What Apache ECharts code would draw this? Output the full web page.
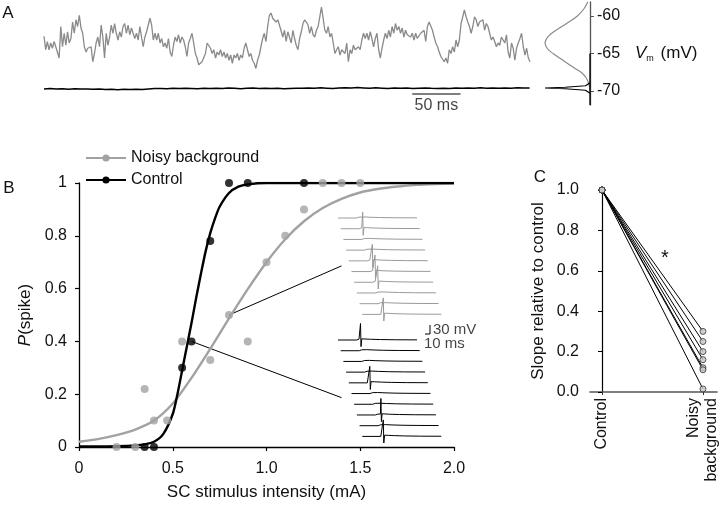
<!DOCTYPE html>
<html><head><meta charset="utf-8">
<script src="https://cdn.jsdelivr.net/npm/echarts@6/dist/echarts.min.js"></script>
<style>html,body{margin:0;padding:0;background:#fff}#c{width:723px;height:506px}</style>
</head><body><div id="c"></div>
<script>
// ================= DATA =================
// Panel A: membrane potential traces (mV), sampled every traceStepMs
const traceStepMs = 1.74;
const noisyTraceMv = [
-62.7,-64.5,-63.4,-64.5,-63.6,-64.3,-63.4,-64.1,-63.9,-65.6,
-61.4,-64.1,-62.3,-63.9,-62.1,-63.6,-63.0,-60.8,-62.3,-60.5,
-61.4,-59.9,-61.6,-62.3,-64.1,-64.8,-64.3,-64.5,-64.1,-66.1,
-65.0,-63.6,-62.8,-64.1,-61.2,-62.8,-65.6,-62.3,-63.9,-62.8,
-61.2,-62.3,-61.0,-62.3,-63.2,-62.1,-62.8,-61.4,-61.0,-62.3,
-61.2,-62.5,-61.6,-62.3,-63.0,-62.3,-63.2,-61.4,-62.8,-64.1,
-62.8,-62.1,-61.2,-60.3,-61.2,-63.2,-62.3,-63.2,-62.3,-63.6,
-63.0,-64.1,-63.6,-64.3,-63.0,-64.8,-65.4,-63.9,-62.8,-63.4,
-62.5,-63.6,-62.8,-63.2,-64.1,-65.4,-63.6,-63.0,-62.3,-63.6,
-65.0,-65.6,-66.5,-66.3,-66.1,-65.9,-65.0,-63.6,-63.4,-64.3,
-65.0,-64.5,-65.6,-64.8,-65.2,-64.5,-65.4,-64.8,-65.6,-65.0,
-65.9,-65.2,-66.3,-65.2,-65.6,-65.0,-65.9,-65.2,-65.6,-64.3,
-63.6,-64.5,-65.4,-65.0,-65.9,-66.3,-67.0,-65.9,-65.2,-64.1,
-63.0,-62.3,-63.4,-61.4,-59.9,-59.6,-60.3,-60.5,-60.8,-60.5,
-61.2,-61.0,-62.8,-61.9,-63.4,-62.1,-62.3,-63.6,-61.9,-63.0,
-63.9,-64.5,-63.0,-62.1,-61.0,-60.5,-60.8,-61.2,-62.3,-61.4,
-62.5,-62.8,-61.9,-61.4,-60.1,-58.8,-60.3,-61.9,-62.3,-61.4,
-62.8,-62.3,-63.6,-65.0,-64.5,-64.1,-65.2,-64.5,-64.3,-65.0,
-63.6,-66.1,-64.5,-65.0,-63.9,-64.5,-64.3,-64.1,
-64.5,-63.2,-62.3,-63.0,-62.3,-63.2,-62.1,-63.0,-64.1,-63.0,
-62.3,-64.5,-65.6,-64.3,-63.2,-62.3,-63.0,-61.9,-62.8,-61.4,
-62.3,-61.0,-61.9,-61.4,-62.3,-61.6,-62.8,-61.9,-62.5,-62.3,
-62.8,-62.3,-63.2,-62.3,-63.0,-62.8,-62.3,-62.5,-61.9,-63.4,
-61.4,-60.8,-61.0,-61.9,-62.8,-63.6,-64.1,-64.8,-65.4,-65.6,
-66.1,-65.6,-66.3,-64.5,-65.0,-64.1,-64.8,-63.2,-64.1,-63.2,
-61.0,-60.1,-59.2,-60.1,-60.8,-61.4,-62.3,-61.4,-60.1,-60.5,
-61.4,-60.8,-61.0,-60.5,-61.9,-61.0,-61.4,-62.3,-63.2,-62.8,
-63.4,-64.1,-63.6,-63.9,-62.8,-63.2,-63.6,-62.5,-64.8,-65.6,
-63.6,-64.3,-65.9,-64.3,-63.6,-63.0,-62.3,-64.1,-65.2,-64.3,
-65.6,-66.1];
const controlTraceStepMs = 6.36;
const controlTraceMv = [
-69.72,-69.68,-69.74,-69.70,-69.76,-69.71,-69.75,-69.73,-69.78,-69.74,
-69.80,-69.77,-69.82,-69.78,-69.81,-69.76,-69.79,-69.72,-69.68,-69.66,
-69.70,-69.64,-69.68,-69.62,-69.66,-69.70,-69.65,-69.68,-69.63,-69.67,
-69.61,-69.65,-69.69,-69.64,-69.60,-69.66,-69.62,-69.67,-69.63,-69.70,
-69.66,-69.62,-69.65,-69.60,-69.64,-69.58,-69.62,-69.66,-69.61,-69.57,
-69.60,-69.55,-69.59,-69.63,-69.58,-69.62,-69.66,-69.61,-69.64,-69.60,
-69.67,-69.63,-69.59,-69.64,-69.68,-69.62,-69.66,-69.61,-69.65,-69.60,
-69.63,-69.58,-69.62,-69.59,-69.64,-69.60,-69.62,-69.58,-69.61,-69.60];
const timeScaleBarMs = [381, 431];
const timeScaleBarMv = -70.4;
const vmRange = [-71.87, -58.13];
const vmTicks = [-70, -65, -60];
// Vm distributions (normalised density)
const noisyDistMv      = [-58.1,-59.0,-60.0,-61.0,-62.0,-62.8,-63.6,-64.4,-65.0,-66.0,-67.0,-67.6,-68.2,-68.8,-69.5,-70.0];
const noisyDistDensity = [0.05, 0.13, 0.28, 0.52, 0.78, 0.94, 1.0, 0.94, 0.82, 0.58, 0.33, 0.18, 0.09, 0.04, 0.01, 0];
const controlDistMv      = [-68.9,-69.3,-69.5,-69.6,-69.7,-69.9,-70.3];
const controlDistDensity = [0, 0.1, 0.55, 1.0, 0.55, 0.1, 0];

// Panel B: spike probability vs SC stimulus intensity
const intensityTicks = [0, 0.5, 1.0, 1.5, 2.0];
const noisyDotsMA = [0.2, 0.3, 0.35, 0.4, 0.47, 0.55, 0.7, 0.8, 0.9, 1.0, 1.1, 1.2, 1.3, 1.4, 1.5];
const noisyDotsP  = [0,   0,   0.22, 0.1, 0.1,  0.4,  0.33,0.5, 0.4, 0.7, 0.8, 0.9, 1,   1,   1];
const controlDotsMA = [0.35, 0.4, 0.55, 0.6, 0.7, 0.8, 0.9, 1.2];
const controlDotsP  = [0,    0,   0.3,  0.4, 0.78, 1,  1,   1];
const noisyFitMA = [0,0.1,0.2,0.3,0.4,0.5,0.6,0.7,0.8,0.9,1.0,1.1,1.2,1.3,1.4,1.5,1.6,1.7,1.8,1.9,2.0];
const noisyFitP  = [0.02,0.03,0.045,0.066,0.1,0.165,0.262,0.372,0.487,0.598,0.7,0.787,0.855,0.905,0.94,0.964,0.978,0.987,0.993,0.996,0.998];
const controlFitMA = [0,0.1,0.2,0.3,0.35,0.4,0.45,0.5,0.525,0.55,0.575,0.6,0.625,0.65,0.675,0.7,0.725,0.75,0.8,0.85,0.9,1.0,1.5,2.0];
const controlFitP  = [0.002,0.002,0.003,0.006,0.01,0.02,0.05,0.125,0.2,0.29,0.38,0.47,0.565,0.655,0.74,0.81,0.865,0.91,0.962,0.986,0.995,1,1,1];
// connectors from example points to the inset traces
const noisyConnector   = [[0.8, 0.5], [1.4, 0.686]];
const controlConnector = [[0.6, 0.4], [1.4, 0.187]];
// inset example traces (ms, mV relative to rest)
const insetQuietMs = [0, 37, 37.6, 38.3, 39, 42, 52, 65, 85, 115, 158];
const insetQuietMv = [0, 0, 5, -3, 0, 3, 3.5, 2.5, 1.5, 0.8, 0.5];
const spikeShapeDtMs = [-1, 0, 1, 2.5];
const spikeShapeMv   = [3, 55, -22, 4];
const noisySpikeLatencyMs   = [null, 44, null, null, 47, 47, 47, null, null, 42];
const controlSpikeLatencyMs = [45, null, null, null, 42, null, null, 48, null, 42];
const insetScaleMs = [174, 184];
const insetScaleMv = [20, 50];

// Panel C: slope relative to control
const slopeCategories = ['Control', 'Noisy\nbackground'];
const slopeControl = [1, 1, 1, 1, 1, 1, 1];
const slopeNoisy   = [0.30, 0.25, 0.20, 0.16, 0.12, 0.11, 0.015];
const slopeTicks = [0, 0.2, 0.4, 0.6, 0.8, 1.0];

// ================= LAYOUT / STYLE =================
const FONT = '"Liberation Sans", Arial, sans-serif';
const FS = 15;     // tick labels
const FT = 17;     // axis titles
const GRAY = '#a2a2a2';
const TRACE_GRAY = '#8a8a8a';
const INK = '#111';
const INSET_DX_MS = 5.4;
const INSET_DY_MV = 35.7;

const chart = echarts.init(document.getElementById('c'));

function hid(gi, min, max, extra){
  return Object.assign({gridIndex: gi, type: 'value', min: min, max: max, show: false, splitLine:{show:false}}, extra || {});
}
function buildInset(latency, i){
  const pts = [];
  for (let k = 0; k < insetQuietMs.length; k++){
    const t = insetQuietMs[k];
    if (latency == null || t < latency + spikeShapeDtMs[0] || t > latency + spikeShapeDtMs[spikeShapeDtMs.length-1]) {
      pts.push([t, insetQuietMv[k]]);
    }
    if (latency != null && k < insetQuietMs.length - 1 && t < latency + spikeShapeDtMs[0] && insetQuietMs[k+1] >= latency + spikeShapeDtMs[0]) {
      for (let j = 0; j < spikeShapeDtMs.length; j++) pts.push([latency + spikeShapeDtMs[j], spikeShapeMv[j]]);
    }
  }
  return pts.map(p => [p[0] + i * INSET_DX_MS, p[1] - i * INSET_DY_MV]);
}

const series = [];
// ---- Panel A ----
series.push({type:'line', xAxisIndex:0, yAxisIndex:0, data: noisyTraceMv.map((v,i)=>[i*traceStepMs, v]),
  showSymbol:false, symbol:'none', lineStyle:{color:TRACE_GRAY, width:1.3}, z:2});
series.push({type:'line', xAxisIndex:0, yAxisIndex:0, data: controlTraceMv.map((v,i)=>[i*controlTraceStepMs, v]),
  showSymbol:false, symbol:'none', lineStyle:{color:'#000', width:1.5}, z:2});
series.push({type:'line', xAxisIndex:0, yAxisIndex:0, data: timeScaleBarMs.map(t=>[t, timeScaleBarMv]),
  symbol:'none', lineStyle:{color:'#000', width:1.2}});
series.push({type:'scatter', xAxisIndex:0, yAxisIndex:0, data:[[(timeScaleBarMs[0]+timeScaleBarMs[1])/2, timeScaleBarMv]],
  symbolSize:0, label:{show:true, position:'bottom', distance:4, formatter:'50 ms', fontSize:FS+1, fontFamily:FONT, color:INK}});
series.push({type:'line', xAxisIndex:1, yAxisIndex:1, data: noisyDistMv.map((m,i)=>[noisyDistDensity[i], m]),
  symbol:'none', smooth:0.4, lineStyle:{color:TRACE_GRAY, width:1.2}});
series.push({type:'line', xAxisIndex:1, yAxisIndex:1, data: controlDistMv.map((m,i)=>[controlDistDensity[i], m]),
  symbol:'none', lineStyle:{color:'#000', width:1.2}});
series.push({type:'line', xAxisIndex:1, yAxisIndex:1, data: [[0, -65], [0, vmRange[0]]],
  symbol:'none', lineStyle:{color:'#000', width:1.3}});

// ---- Panel B ----
series.push({name:'Noisy background', type:'line', xAxisIndex:2, yAxisIndex:2, data:[], symbol:'circle', symbolSize:8,
  itemStyle:{color:GRAY}, lineStyle:{color:GRAY, width:2.4}});
series.push({name:'Control', type:'line', xAxisIndex:2, yAxisIndex:2, data:[], symbol:'circle', symbolSize:8,
  itemStyle:{color:'#000'}, lineStyle:{color:'#000', width:2.4}});
series.push({type:'line', xAxisIndex:2, yAxisIndex:2, data: noisyConnector, symbol:'none', lineStyle:{color:'#000', width:1}, z:1});
series.push({type:'line', xAxisIndex:2, yAxisIndex:2, data: controlConnector, symbol:'none', lineStyle:{color:'#000', width:1}, z:1});
series.push({type:'line', xAxisIndex:2, yAxisIndex:2, data: noisyFitMA.map((x,i)=>[x, noisyFitP[i]]),
  symbol:'none', smooth:0.25, lineStyle:{color:GRAY, width:2.4}, z:2});
series.push({type:'line', xAxisIndex:2, yAxisIndex:2, data: controlFitMA.map((x,i)=>[x, controlFitP[i]]),
  symbol:'none', smooth:0.25, lineStyle:{color:'#000', width:2.4}, z:3});
series.push({type:'scatter', xAxisIndex:2, yAxisIndex:2, data: noisyDotsMA.map((x,i)=>[x, noisyDotsP[i]]),
  symbol:'circle', symbolSize:8, itemStyle:{color:GRAY}, z:4, clip:false});
series.push({type:'scatter', xAxisIndex:2, yAxisIndex:2, data: controlDotsMA.map((x,i)=>[x, controlDotsP[i]]),
  symbol:'circle', symbolSize:8, itemStyle:{color:'#000'}, z:5, clip:false});
// insets
noisySpikeLatencyMs.forEach((lat, i) => {
  series.push({type:'line', xAxisIndex:3, yAxisIndex:3, data: buildInset(lat, i), symbol:'none',
    lineStyle:{color:'#9a9a9a', width:1}, clip:false});
});
controlSpikeLatencyMs.forEach((lat, i) => {
  series.push({type:'line', xAxisIndex:4, yAxisIndex:4, data: buildInset(lat, i), symbol:'none',
    lineStyle:{color:'#000', width:1}, clip:false});
});
series.push({type:'line', xAxisIndex:4, yAxisIndex:4,
  data: [[insetScaleMs[0], insetScaleMv[0]], [insetScaleMs[1], insetScaleMv[0]], [insetScaleMs[1], insetScaleMv[1]]],
  symbol:'none', lineStyle:{color:'#000', width:1}, clip:false});
series.push({type:'scatter', xAxisIndex:4, yAxisIndex:4, clip:false,
  data:[[insetScaleMs[1], (insetScaleMv[0]+insetScaleMv[1])/2]], symbolSize:0,
  label:{show:true, position:'right', distance:3, formatter:'30 mV', fontSize:FS, fontFamily:FONT, color:INK}});
series.push({type:'scatter', xAxisIndex:4, yAxisIndex:4, clip:false,
  data:[[insetScaleMs[0] - 2, insetScaleMv[0]]], symbolSize:0,
  label:{show:true, position:[0, 2], align:'left', verticalAlign:'top', formatter:'10 ms', fontSize:FS, fontFamily:FONT, color:INK}});

// ---- Panel C ----
slopeNoisy.forEach((v, i) => {
  series.push({type:'line', xAxisIndex:5, yAxisIndex:5, data:[[0, slopeControl[i]], [1, v]], symbol:'none',
    lineStyle:{color:'#000', width:1}, z:2});
});
series.push({type:'scatter', xAxisIndex:5, yAxisIndex:5, clip:false,
  data: slopeControl.map(v=>[0, v]).concat(slopeNoisy.map(v=>[1, v])),
  symbol:'circle', symbolSize:6, itemStyle:{color:'#c8c8c8', borderColor:'#333', borderWidth:1}, z:4});

const axisStyle = {lineStyle:{color:'#000', width:1.3}};
const option = {
  animation:false,
  backgroundColor:'#fff',
  textStyle:{fontFamily:FONT},
  grid:[
    {left:44, top:2, width:486, height:103},
    {left:545, top:2, width:45, height:103},
    {left:79, top:183, width:375, height:264},
    {left:338, top:198, width:104, height:126},
    {left:338, top:320, width:104, height:126},
    {left:590, top:190, width:127, height:202}
  ],
  xAxis:[
    hid(0, 0, (noisyTraceMv.length-1)*traceStepMs),
    hid(1, 0, 1, {inverse:true}),
    {gridIndex:2, type:'value', min:intensityTicks[0], max:intensityTicks[intensityTicks.length-1], interval:0.5, offset:6,
      axisLine:axisStyle, axisTick:{length:4, lineStyle:{color:'#000', width:1.2}},
      axisLabel:{margin:8, fontSize:FS+1, color:INK, fontFamily:FONT, formatter:v => v === 0 ? '0' : v.toFixed(1)},
      splitLine:{show:false},
      name:'SC stimulus intensity (mA)', nameLocation:'middle', nameGap:31,
      nameTextStyle:{fontSize:FT, color:INK, fontFamily:FONT}},
    hid(3, 0, 208),
    hid(4, 0, 208),
    {gridIndex:5, type:'value', min:-0.119, max:1.139,
      axisLine:{lineStyle:{color:'#555', width:1.6}},
      axisTick:{customValues:[0,1], length:3, lineStyle:{color:'#333'}},
      axisLabel:{customValues:[0,1], rotate:90, margin:6, fontSize:FS+1, color:INK, fontFamily:FONT, lineHeight:FS+3,
        formatter:v => v < 0.5 ? slopeCategories[0] : slopeCategories[1]},
      splitLine:{show:false}}
  ],
  yAxis:[
    hid(0, vmRange[0], vmRange[1]),
    {gridIndex:1, type:'value', min:vmRange[0], max:vmRange[1], position:'right', offset:4,
      axisLine:{lineStyle:{color:'#555', width:1.3}},
      axisTick:{customValues:vmTicks, length:4, lineStyle:{color:'#555'}},
      axisLabel:{customValues:vmTicks, margin:3, fontSize:FS+1, color:INK, fontFamily:FONT},
      splitLine:{show:false}},
    {gridIndex:2, type:'value', min:0, max:1, interval:0.2, offset:6,
      axisLine:axisStyle, axisTick:{length:4, lineStyle:{color:'#000', width:1.2}},
      axisLabel:{margin:6, fontSize:FS+1, color:INK, fontFamily:FONT},
      splitLine:{show:false},
      name:'{i|P}(spike)', nameLocation:'middle', nameGap:35,
      nameTextStyle:{fontSize:FT, color:INK, fontFamily:FONT, rich:{i:{fontStyle:'italic', fontSize:FT, fontFamily:FONT, color:INK}}}},
    hid(3, -353.3, 66.7),
    hid(4, -353.3, 66.7),
    {gridIndex:5, type:'value', min:slopeTicks[0], max:slopeTicks[slopeTicks.length-1], interval:0.2, offset:5,
      axisLine:{lineStyle:{color:'#000', width:1.2}}, axisTick:{length:4, lineStyle:{color:'#000'}},
      axisLabel:{margin:6, fontSize:FS+1, color:INK, fontFamily:FONT, formatter:v => v.toFixed(1)},
      splitLine:{show:false},
      name:'Slope relative to control', nameLocation:'middle', nameGap:38,
      nameTextStyle:{fontSize:FT, color:INK, fontFamily:FONT}}
  ],
  legend:{data:['Noisy background','Control'], orient:'vertical', left:80, top:145, itemWidth:40, itemHeight:9, itemGap:6,
    selectedMode:false, textStyle:{fontSize:FS+1, color:INK, fontFamily:FONT}},
  graphic:[
    {type:'text', x:8, y:13, style:{text:'A', fontSize:17, fontFamily:FONT, fill:INK, align:'center', verticalAlign:'middle'}},
    {type:'text', x:9, y:188, style:{text:'B', fontSize:17, fontFamily:FONT, fill:INK, align:'center', verticalAlign:'middle'}},
    {type:'text', x:540, y:177, style:{text:'C', fontSize:17, fontFamily:FONT, fill:INK, align:'center', verticalAlign:'middle'}},
    {type:'text', x:665, y:258, style:{text:'*', fontSize:20, fontFamily:FONT, fill:INK, align:'center', verticalAlign:'middle'}},
    {type:'text', x:635, y:53, style:{text:'{i|V}{s|m} (mV)', verticalAlign:'middle', fill:INK,
      rich:{i:{fontStyle:'italic', fontSize:FT, fontFamily:FONT, fill:INK, lineHeight:20},
            s:{fontSize:9, fontFamily:FONT, fill:INK, lineHeight:20, verticalAlign:'bottom', padding:[8,2,0,0]}},
      fontSize:FT, fontFamily:FONT}}
  ],
  series: series
};
chart.setOption(option);
</script>
</body></html>
